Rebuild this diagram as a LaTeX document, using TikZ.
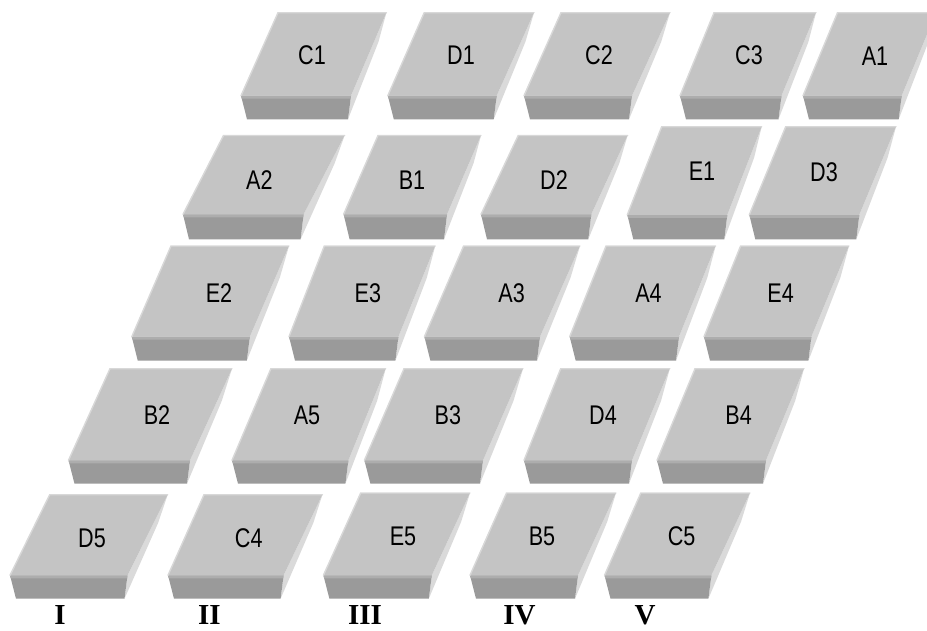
\documentclass[tikz,border=0pt]{standalone}
\usepackage{fontspec}
\usetikzlibrary{calc}
\newfontfamily\tilefont[FakeStretch=0.8]{Liberation Sans}
\newfontfamily\romfont{Liberation Serif}
\definecolor{topface}{HTML}{C4C4C4}
\definecolor{frontface}{HTML}{9A9A9A}
\definecolor{frontband}{HTML}{ADADAD}
\definecolor{sideface}{HTML}{DADADA}
\definecolor{edgelight}{HTML}{D8D8D8}
\tikzset{
  tiletop/.style={fill=topface},
  tilefront/.style={fill=frontface},
  tileband/.style={fill=frontband},
  tileside/.style={fill=sideface},
  tileedge/.style={draw=edgelight, line width=1.4pt, line cap=round},
  tilelabel/.style={inner sep=0pt, font=\tilefont\fontsize{27}{27}\selectfont, text=black},
  colmark/.style={inner sep=0pt, anchor=base, font=\romfont\bfseries\fontsize{29}{29}\selectfont}
}
\begin{document}
\begin{tikzpicture}[x=1pt,y=-1pt]
\useasboundingbox (0,0) rectangle (927,630);
\clip (0,0) rectangle (927,630);
\foreach \a/\b/\c/\d/\t/\u/\v/\p/\q/\n in {
  278/386.4/241/351/12.7/95.7/119.3/312/55/C1,
  424.2/534/387.8/496.7/12.7/95.7/119.3/461/55/D1,
  561/670/524/632/12.7/95.7/119.3/599/55/C2,
  714/816/680/781.5/12.7/95.7/119.3/749/55/C3,
  837.5/936/803/901.7/12.7/95.7/119.3/875/56/A1,
  223.5/344.6/183/303.6/135.5/214.3/239.3/259.4/180/A2,
  378/481/343.6/447/135.5/214.3/239.3/412/180/B1,
  518.2/627.6/481/591.3/135.5/214.3/239.3/554/180/D2,
  661.7/761.7/627.3/727.3/126.7/214.8/239.3/702/171.7/E1,
  785.7/896/749.3/859.3/126.7/214.8/239.3/824/171.7/D3,
  171/289/131.8/249.8/246/336.7/360.7/219/293.3/E2,
  324.3/435.2/289/398.4/246/336.7/360.7/367.8/293.3/E3,
  463.6/580/424.4/540/246/336.7/360.7/511.7/293.3/A3,
  606/715.6/569.7/679/246/336.7/360.7/648.5/293.3/A4,
  740.6/849/704/811.4/246/336.7/360.7/780.7/293.3/E4,
  110/232/68.5/190/368.7/460.3/483.7/157/415.3/B2,
  270.9/385.7/232/348.4/368.7/460.3/483.7/307/415.3/A5,
  404/523/364.4/483/368.7/460.3/483.7/447.8/415.3/B3,
  560.7/669.8/524/632/368.7/460.3/483.7/603/415.3/D4,
  695/804/657/766/368.7/460.3/483.7/738.6/415.3/B4,
  49.7/167.7/10/127.5/494.7/575.3/598.7/92/538/D5,
  204/322.4/168/283.6/494.7/575.3/598.7/248.8/538/C4,
  360.7/470/323.4/431.8/493/575.3/598.7/403/536/E5,
  506.5/616/470/578/493/575.3/598.7/542/536/B5,
  640.8/750/604.5/711.4/493/575.3/598.7/681.6/536/C5} {
  % side sliver
  \fill[tileside] (\b,\t) -- ($($(\b,\t)!0.35!(\d,\u)$)+(4.5,0)$) -- ($(\d,\v)+(-3,0)$) -- (\d,\u) -- cycle;
  % front face
  \fill[tilefront] (\c,\u) -- (\d,\u) -- ($(\d,\v)+(-3,0)$) -- ($(\c,\v)+(6,0)$) -- cycle;
  \fill[tileband] (\c,\u) -- (\d,\u) -- ($(\d,\u)+(-0.4,3)$) -- ($(\c,\u)+(0.8,3)$) -- cycle;
  % top face
  \fill[tiletop] (\a,\t) -- (\b,\t) -- (\d,\u) -- (\c,\u) -- cycle;
  \draw[tileedge] (\c,\u) -- (\a,\t) -- (\b,\t);
  \node[tilelabel] (t\n) at (\p,\q) {\n};
}
\node[colmark] (cI) at (60,624) {I};
\node[colmark] (cII) at (209.5,624) {II};
\node[colmark] (cIII) at (365,624) {III};
\node[colmark] (cIV) at (519.5,624) {IV};
\node[colmark] (cV) at (645,624) {V};
\end{tikzpicture}
\end{document}
